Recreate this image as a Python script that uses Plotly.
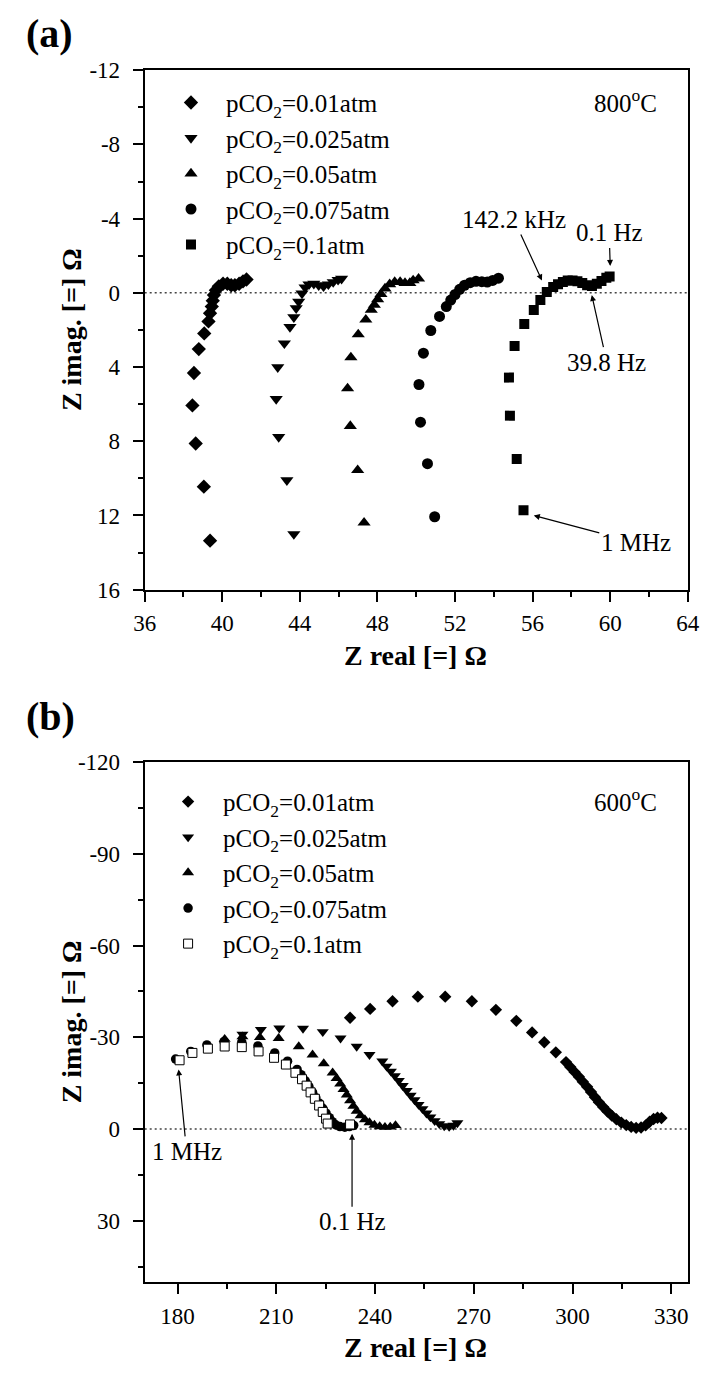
import plotly.graph_objects as go

FONT = "Liberation Serif"

# ---------------- Panel (a): 800 C ----------------
labels = ["pCO<sub>2</sub>=0.01atm", "pCO<sub>2</sub>=0.025atm", "pCO<sub>2</sub>=0.05atm",
          "pCO<sub>2</sub>=0.075atm", "pCO<sub>2</sub>=0.1atm"]

a1_x = [39.37, 39.05, 38.63, 38.46, 38.54, 38.79, 39.07, 39.29, 39.37, 39.46, 39.51, 39.57, 39.67,
        39.82, 40.04, 40.26, 40.46, 40.65, 40.87, 41.07, 41.25]
a1_y = [13.36, 10.45, 8.12, 6.07, 4.32, 3.03, 2.19, 1.54, 1.10, 0.74, 0.42, 0.12, -0.14,
        -0.35, -0.49, -0.49, -0.41, -0.41, -0.49, -0.62, -0.72]

a2_x = [43.69, 43.33, 42.91, 42.78, 42.86, 43.20, 43.49, 43.69, 43.81, 43.94, 44.11, 44.27, 44.47,
        44.72, 44.97, 45.22, 45.47, 45.72, 45.97, 46.15]
a2_y = [13.0, 10.1, 7.77, 5.72, 4.01, 2.72, 1.84, 1.31, 0.83, 0.48, 0.03, -0.29, -0.46,
        -0.49, -0.41, -0.35, -0.46, -0.58, -0.70, -0.76]

a3_x = [47.31, 46.98, 46.60, 46.46, 46.63, 47.01, 47.40, 47.68, 47.84, 48.01, 48.18, 48.39, 48.63,
        48.89, 49.17, 49.42, 49.67, 49.84, 50.12]
a3_y = [12.39, 9.56, 7.18, 5.15, 3.48, 2.24, 1.45, 0.92, 0.65, 0.35, 0.07, -0.23, -0.46,
        -0.58, -0.58, -0.53, -0.53, -0.67, -0.76]

a4_x = [50.95, 50.58, 50.22, 50.14, 50.37, 50.75, 51.20, 51.55, 51.78, 52.00, 52.24, 52.49, 52.78,
        53.08, 53.38, 53.66, 53.94, 54.24]
a4_y = [12.07, 9.21, 6.97, 4.94, 3.25, 2.03, 1.27, 0.74, 0.39, 0.09, -0.19, -0.41, -0.55,
        -0.62, -0.60, -0.58, -0.67, -0.79]

a5_x = [55.53, 55.18, 54.83, 54.78, 55.07, 55.57, 56.06, 56.40, 56.73, 57.06, 57.31, 57.56, 57.81,
        58.06, 58.31, 58.56, 58.81, 59.06, 59.31, 59.55, 59.80, 59.97]
a5_y = [11.72, 8.95, 6.62, 4.57, 2.86, 1.68, 0.92, 0.39, -0.05, -0.32, -0.46, -0.58, -0.67,
        -0.67, -0.62, -0.53, -0.41, -0.37, -0.49, -0.64, -0.81, -0.88]

a_xticks = [36, 40, 44, 48, 52, 56, 60, 64]
a_xminor = [38, 42, 46, 50, 54, 58, 62]
a_yticks = [-12, -8, -4, 0, 4, 8, 12, 16]
a_yticktext = ["-12", "-8", "-4", "0", "4", "8", "12", "16"]
a_yminor = [-10, -6, -2, 2, 6, 10, 14]

# ---------------- Panel (b): 600 C ----------------
b1_x = [232.4, 238.5, 245.3, 253.0, 261.3, 269.4, 276.7, 282.9, 287.7, 291.4, 294.9, 298.0,
        299.3, 300.6, 301.9, 303.1, 304.4, 305.6, 306.8, 308.0, 309.3, 310.6, 311.9, 313.3,
        314.8, 316.3, 317.8, 319.3, 320.8, 322.2, 323.4, 324.6, 325.8, 327.0]
b1_y = [-36.4, -39.3, -41.8, -43.3, -43.3, -41.8, -39.0, -35.4, -31.6, -28.4, -25.1, -21.9,
        -20.3, -18.7, -17.1, -15.5, -13.8, -12.1, -10.4, -8.8, -7.2, -5.7, -4.4, -3.2,
        -2.1, -1.3, -0.7, -0.4, -0.5, -1.2, -2.4, -3.3, -3.7, -3.6]

b2_x = [199.7, 205.3, 210.9, 218.1, 224.1, 229.5, 234.4, 238.3, 242.2, 243.5, 244.8, 246.0,
        247.2, 248.4, 249.6, 250.8, 252.0, 253.2, 254.4, 255.6, 256.8, 258.1, 259.5, 261.0,
        262.5, 263.8, 265.0]
b2_y = [-31.0, -32.5, -33.0, -32.9, -31.8, -29.7, -27.0, -24.3, -22.2, -20.5, -18.9, -17.4,
        -15.8, -14.2, -12.6, -11.0, -9.5, -8.0, -6.6, -5.2, -3.9, -2.7, -1.7, -1.0,
        -0.8, -1.2, -2.0]

b3_x = [194.3, 199.7, 205.0, 210.7, 216.8, 221.0, 224.4, 227.1, 228.3, 229.4, 230.4, 231.4,
        232.4, 233.4, 234.4, 235.6, 236.9, 238.3, 239.8, 241.4, 243.0, 244.6, 246.2]
b3_y = [-29.4, -30.2, -30.0, -29.7, -27.0, -24.3, -21.4, -18.4, -16.6, -14.8, -13.0, -11.2,
        -9.3, -7.5, -5.9, -4.4, -3.1, -2.1, -1.3, -0.8, -0.6, -0.7, -1.2]

b4_x = [179.4, 184.0, 188.9, 194.1, 199.5, 204.4, 209.5, 213.4, 216.3, 217.5, 218.8, 219.9,
        221.0, 222.0, 223.1, 224.1, 225.1, 226.1, 227.0, 228.0, 229.3, 230.8, 232.2, 233.5]
b4_y = [-22.9, -25.4, -27.5, -28.6, -28.4, -27.2, -24.9, -22.2, -19.5, -17.8, -15.8, -13.9,
        -12.0, -10.2, -8.4, -6.8, -5.2, -3.7, -2.4, -1.4, -0.8, -0.6, -0.8, -1.2]

b5_x = [180.6, 184.5, 189.2, 194.3, 199.5, 204.6, 209.3, 212.9, 215.8, 217.8, 219.2, 220.4,
        221.7, 223.0, 224.1, 225.1, 225.6, 232.4]
b5_y = [-22.5, -24.9, -26.3, -27.0, -26.8, -25.4, -23.3, -21.1, -18.4, -16.3, -14.2, -12.0,
        -9.9, -7.7, -5.6, -3.4, -1.8, -1.5]

b_xticks = [180, 210, 240, 270, 300, 330]
b_xminor = [195, 225, 255, 285, 315]
b_yticks = [-120, -90, -60, -30, 0, 30]
b_yticktext = ["-120", "-90", "-60", "-30", "0", "30"]
b_yminor = [-105, -75, -45, -15, 15, 45]

symbols = ["diamond", "triangle-down", "triangle-up", "circle", "square"]
a_sizes = [11, 11.5, 11.5, 11, 10]
b_sizes = [9.5, 10.5, 10.5, 9.5, 9]

fig = go.Figure()

a_data = [(a1_x, a1_y), (a2_x, a2_y), (a3_x, a3_y), (a4_x, a4_y), (a5_x, a5_y)]
for i, (xs, ys) in enumerate(a_data):
    fig.add_trace(go.Scatter(
        x=xs, y=ys, mode="markers", name=labels[i], xaxis="x", yaxis="y",
        legend="legend", legendgroup="a%d" % i,
        marker=dict(symbol=symbols[i], size=a_sizes[i], color="black", line=dict(width=0)),
    ))

b_data = [(b1_x, b1_y), (b2_x, b2_y), (b3_x, b3_y), (b4_x, b4_y), (b5_x, b5_y)]
for i, (xs, ys) in enumerate(b_data):
    if i == 4:
        mk = dict(symbol="square", size=b_sizes[i], color="white", line=dict(width=1, color="black"))
    else:
        mk = dict(symbol=symbols[i], size=b_sizes[i], color="black", line=dict(width=0))
    fig.add_trace(go.Scatter(
        x=xs, y=ys, mode="markers", name=labels[i], xaxis="x2", yaxis="y2",
        legend="legend2", legendgroup="b%d" % i, marker=mk,
    ))

W, H = 714, 1382
x_dom = [137.3 / W, 699.3 / W]
ya_dom = [1 - 588.3 / H, 1 - 59.3 / H]
yb_dom = [1 - 1293.3 / H, 1 - 764.0 / H]

tickfont = dict(family=FONT, size=23, color="black")


def xaxis_cfg(rng, ticks, minor, anchor):
    return dict(domain=x_dom, range=rng, tickmode="array", tickvals=ticks,
                ticktext=[str(t) for t in ticks], ticks="outside", ticklen=10, tickwidth=2,
                tickcolor="black", showline=True, linecolor="black", linewidth=2, mirror=True,
                showgrid=False, zeroline=False, tickfont=tickfont, anchor=anchor,
                ticklabelstandoff=2,
                minor=dict(tickmode="array", tickvals=minor, ticks="outside", ticklen=5,
                           tickwidth=2, tickcolor="black", showgrid=False))


def yaxis_cfg(dom, rng, ticks, text, minor, anchor):
    return dict(domain=dom, range=rng, tickmode="array", tickvals=ticks, ticktext=text,
                ticks="outside", ticklen=10, tickwidth=2, tickcolor="black", showline=True,
                linecolor="black", linewidth=2, mirror=True, showgrid=False, zeroline=False,
                tickfont=tickfont, anchor=anchor, ticklabelstandoff=8,
                minor=dict(tickmode="array", tickvals=minor, ticks="outside", ticklen=5,
                           tickwidth=2, tickcolor="black", showgrid=False))


legfont = dict(family=FONT, size=25, color="black")

fig.update_layout(
    width=W, height=H, margin=dict(l=0, r=0, t=0, b=0),
    paper_bgcolor="white", plot_bgcolor="white",
    xaxis=xaxis_cfg([36, 64], a_xticks, a_xminor, "y"),
    yaxis=yaxis_cfg(ya_dom, [16, -12], a_yticks, a_yticktext, a_yminor, "x"),
    xaxis2=xaxis_cfg([170, 335], b_xticks, b_xminor, "y2"),
    yaxis2=yaxis_cfg(yb_dom, [50, -120], b_yticks, b_yticktext, b_yminor, "x2"),
    legend=dict(x=149 / W, y=1 - 69 / H, xanchor="left", yanchor="top", font=legfont,
                itemwidth=60, bgcolor="rgba(0,0,0,0)", tracegroupgap=0, borderwidth=0),
    legend2=dict(x=146 / W, y=1 - 781 / H, xanchor="left", yanchor="top", font=legfont,
                 itemwidth=60, bgcolor="rgba(0,0,0,0)", tracegroupgap=0, borderwidth=0),
    showlegend=True,
)

# dotted zero lines
for xr, yr in [("x domain", "y"), ("x2 domain", "y2")]:
    fig.add_shape(type="line", xref=xr, yref=yr, x0=0, x1=1, y0=0, y1=0,
                  line=dict(color="#444444", width=1.5, dash="2px,3px"), layer="below")

ann_font = dict(family=FONT, size=25, color="black")
arrow = dict(showarrow=True, arrowhead=2, arrowsize=1, arrowwidth=1.2, arrowcolor="black")

# panel (a) annotations
fig.add_annotation(x=60.0, y=-1.45, xref="x", yref="y", text="0.1 Hz", ax=-1, ay=-33,
                   font=ann_font, **arrow)
fig.add_annotation(x=56.48, y=-0.67, xref="x", yref="y", text="142.2 kHz", ax=-28, ay=-61,
                   font=ann_font, **arrow)
fig.add_annotation(x=59.05, y=0.12, xref="x", yref="y", text="39.8 Hz", ax=15, ay=67,
                   font=ann_font, **arrow)
fig.add_annotation(x=56.06, y=12.0, xref="x", yref="y", text="1 MHz", ax=102, ay=27,
                   font=ann_font, **arrow)
# panel (b) annotations
fig.add_annotation(x=180.3, y=-19.5, xref="x2", yref="y2", text="1 MHz", ax=8, ay=82,
                   font=ann_font, **arrow)
fig.add_annotation(x=233.0, y=1.5, xref="x2", yref="y2", text="0.1 Hz", ax=0, ay=88,
                   font=ann_font, **arrow)


def paper_text(xpx, ypx, text, font, angle=0, xanchor="center"):
    fig.add_annotation(x=xpx / W, y=1 - ypx / H, xref="paper", yref="paper", xanchor=xanchor,
                       yanchor="middle", text=text, showarrow=False, font=font, textangle=angle)


# temperature labels
paper_text(670, 91, "800<sup>o</sup>C", ann_font, xanchor="right")
paper_text(670, 803, "600<sup>o</sup>C", ann_font, xanchor="right")

# panel letters
title_font = dict(family=FONT, size=40, color="black")
paper_text(12, 22, "<b>(a)</b>", title_font, xanchor="left")
paper_text(12, 717, "<b>(b)</b>", title_font, xanchor="left")

# axis titles
axt_font = dict(family=FONT, size=28, color="black")
paper_text(418, 655, "<b>Z real [=] Ω</b>", axt_font)
paper_text(418, 1360, "<b>Z real [=] Ω</b>", axt_font)
paper_text(61, 323, "<b>Z imag. [=] Ω</b>", axt_font, angle=-90)
paper_text(61, 1028, "<b>Z imag. [=] Ω</b>", axt_font, angle=-90)

fig.write_html("out.html")
